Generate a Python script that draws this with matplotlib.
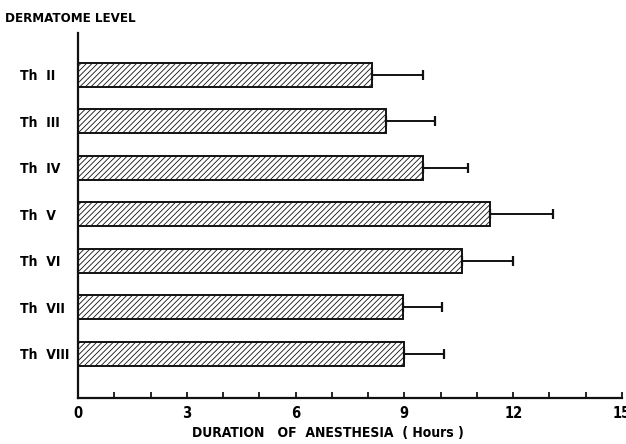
import matplotlib
matplotlib.use("Agg")
import matplotlib.pyplot as plt
from matplotlib.ticker import MultipleLocator

# Duration of anesthesia by thoracic dermatome level (mean + SD, hours)
levels = ["Th  II", "Th  III", "Th  IV", "Th  V", "Th  VI", "Th  VII", "Th  VIII"]
mean_hours = [8.1, 8.5, 9.5, 11.35, 10.6, 8.95, 9.0]
sd_hours = [1.4, 1.35, 1.25, 1.75, 1.4, 1.1, 1.1]
x_ticks = [0, 3, 6, 9, 12, 15]

plt.rcParams["hatch.linewidth"] = 0.6
plt.rcParams["hatch.color"] = "#555555"

font = dict(family="DejaVu Sans", weight="bold", stretch="condensed")

fig = plt.figure(figsize=(6.26, 4.44), dpi=100)
ax = fig.add_axes([78 / 626, 1 - 398 / 444, (622 - 78) / 626, (398 - 33) / 444])

pos = list(range(len(levels)))
ax.barh(pos, mean_hours, height=0.52, color="white", edgecolor="#111111",
        linewidth=1.4, hatch="//////", zorder=2)
ax.errorbar(mean_hours, pos, xerr=[[0] * len(sd_hours), sd_hours], fmt="none",
            ecolor="#111111", elinewidth=1.4, capsize=3.5, capthick=1.6, zorder=3)

ax.set_xlim(0, 15)
ax.set_ylim(len(levels) - 1 + 0.95, -0.9)
ax.set_yticks(pos)
ax.set_yticklabels(levels, fontsize=10, ha="left", **font)
ax.set_xticks(x_ticks)
ax.set_xticklabels([str(t) for t in x_ticks], fontsize=10.5, **font)
ax.xaxis.set_minor_locator(MultipleLocator(1))
ax.tick_params(axis="y", length=0, pad=42)
ax.tick_params(axis="x", which="both", direction="in", length=4, width=1.2, pad=6)

for side in ("top", "right"):
    ax.spines[side].set_visible(False)
for side in ("left", "bottom"):
    ax.spines[side].set_linewidth(1.6)
    ax.spines[side].set_color("#111111")

fig.text(5 / 626, 1 - 18 / 444, "DERMATOME LEVEL", fontsize=9.5, va="center",
         ha="left", **font)
fig.text(328 / 626, 1 - 433 / 444, "DURATION   OF  ANESTHESIA  ( Hours )",
         fontsize=10, va="center", ha="center", **font)

fig.savefig("out.png", dpi=100)
